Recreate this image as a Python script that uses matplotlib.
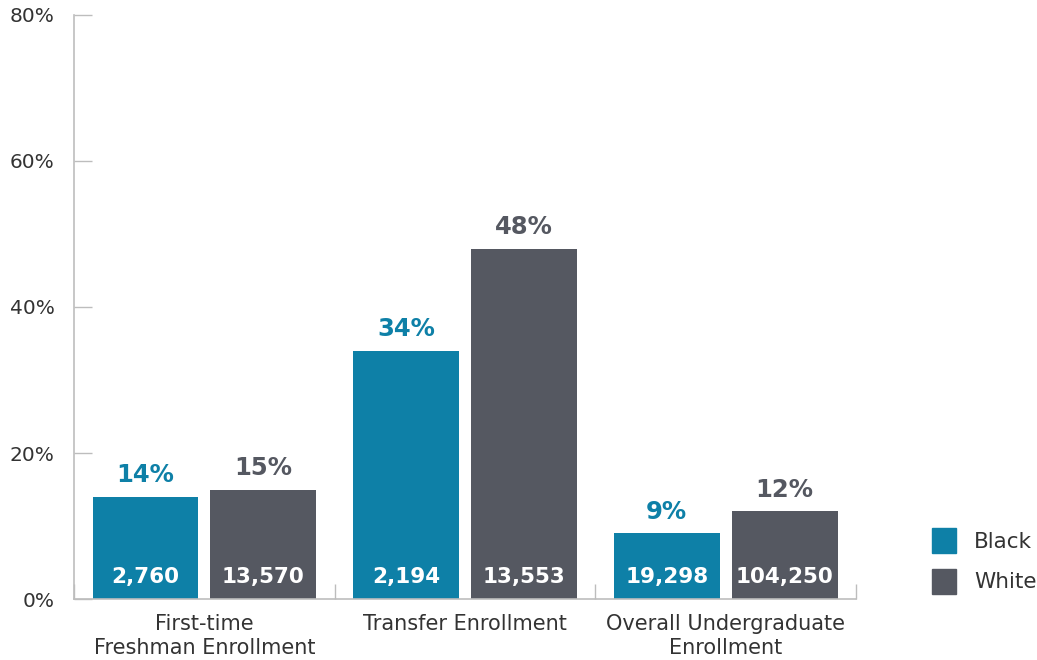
import numpy as np
import matplotlib.pyplot as plt
from matplotlib.patches import Patch

categories = ["First-time\nFreshman Enrollment", "Transfer Enrollment",
              "Overall Undergraduate\nEnrollment"]
black_pct = [14, 34, 9]
white_pct = [15, 48, 12]
black_n = ["2,760", "2,194", "19,298"]
white_n = ["13,570", "13,553", "104,250"]
y_ticks = [0, 20, 40, 60, 80]

c_black = "#0E80A7"
c_white = "#555861"
c_axis = "#BDBDBD"
c_text = "#333333"

plt.rcParams['font.family'] = ['DejaVu Sans']

fig = plt.figure(figsize=(10.37, 6.6), dpi=100)
ax = fig.add_axes([0.0714, 0.0924, 0.7541, 0.8849])

x = np.arange(len(categories))
w = 0.406
off = 0.226
b1 = ax.bar(x - off, black_pct, w, color=c_black)
b2 = ax.bar(x + off, white_pct, w, color=c_white)

for bars, pcts, ns, col in [(b1, black_pct, black_n, c_black), (b2, white_pct, white_n, c_white)]:
    for r, p, n in zip(bars, pcts, ns):
        cx = r.get_x() + r.get_width() / 2
        ax.annotate(f"{p}%", (cx, p), xytext=(0, 7), textcoords="offset points",
                    ha="center", va="bottom", fontsize=17.5, fontweight="bold", color=col)
        ax.annotate(n, (cx, 0), xytext=(0, 9), textcoords="offset points",
                    ha="center", va="bottom", fontsize=15.5, fontweight="bold", color="white")

ax.set_xlim(-0.5, 2.5)
ax.set_ylim(0, 80)
ax.set_yticks(y_ticks)
ax.set_yticklabels([f"{t}%" for t in y_ticks])
ax.tick_params(axis="y", direction="in", length=13, width=1, color=c_axis,
               labelsize=14.5, labelcolor=c_text, pad=14)

# category boundary ticks on x axis
ax.set_xticks([-0.5, 0.5, 1.5, 2.5])
ax.set_xticklabels([])
ax.tick_params(axis="x", direction="in", length=11, width=1, color=c_axis)
for i, c in enumerate(categories):
    ax.text(i, -2.1, c, ha="center", va="top", fontsize=15, color=c_text,
            linespacing=1.2)

for s in ["top", "right"]:
    ax.spines[s].set_visible(False)
for s in ["left", "bottom"]:
    ax.spines[s].set_color(c_axis)
    ax.spines[s].set_linewidth(1.2)

handles = [Patch(color=c_black, label="Black"), Patch(color=c_white, label="White")]
fig.legend(handles=handles, loc="center left", bbox_to_anchor=(0.88, 0.15),
           frameon=False, fontsize=15.5, handlelength=1.1, handleheight=1.45,
           handletextpad=0.85, labelspacing=0.7, labelcolor=c_text)

fig.savefig("out.png", dpi=100)
